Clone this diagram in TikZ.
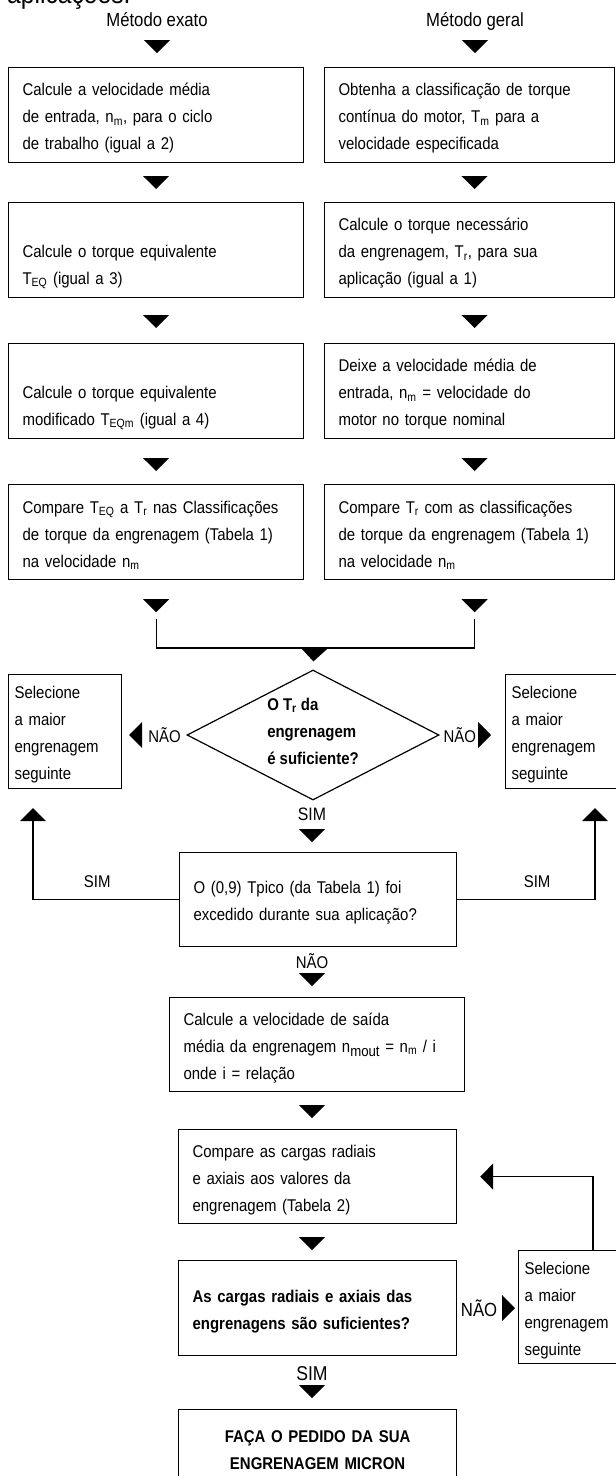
\documentclass[tikz,border=0pt]{standalone}
\usepackage{fontspec}
\setmainfont{Liberation Sans}[FakeStretch=0.88]
\usetikzlibrary{arrows.meta,shapes.geometric}
\newcommand\flowfont{\fontsize{17}{27}\selectfont}
\hyphenpenalty=10000
\exhyphenpenalty=10000

\begin{document}
\begin{tikzpicture}[x=1pt,y=-1pt,
        box/.style={draw, line width=1.2pt, anchor=north west, inner xsep=14pt, inner ysep=0pt,
          minimum height=95pt, text width=#1, align=left, font=\flowfont, execute at begin node=\strut},
        sel/.style={box=101pt, inner xsep=6pt, minimum height=114pt},
        query/.style={draw, diamond, line width=1.2pt, aspect=1.94, inner sep=0pt, minimum width=252pt,
          minimum height=130pt, align=left, font=\flowfont\bfseries, execute at end node=\strut},
        ttl/.style={inner sep=0pt, anchor=base, text depth=0pt, font=\fontsize{19}{19}\selectfont},
        lbl/.style={inner sep=0pt, font=\fontsize{#1}{#1}\selectfont}, lbl/.default=17,
        link/.style={line width=1.2pt},
        pointer/.style 2 args={line width=1.2pt, -{Triangle[length=13pt,width=26pt]}, shorten <=#1, shorten >=#2}]
        \path[use as bounding box, fill=white] (0,0) rectangle (616,1476);
        \node[anchor=base west, inner sep=0pt, font=\fontsize{28}{28}\selectfont] (cut) at (7,3) {aplicações.};
        %
        % column titles
        \node[ttl] (ttlL) at (157,26) {Método exato};
        \node[ttl] (ttlR) at (475,26) {Método geral};
        %
        % left column
        \node[box=267pt] (b1L) at (8,67) {Calcule a velocidade média\\de entrada, n\textsubscript{m}, para o ciclo\\de trabalho (igual a 2)};
        \node[box=267pt] (b2L) at (8,202) {\\Calcule o torque equivalente\\T\textsubscript{EQ} (igual a 3)};
        \node[box=267pt] (b3L) at (8,343) {\\Calcule o torque equivalente\\modificado T\textsubscript{EQm} (igual a 4)};
        \node[box=267pt] (b4L) at (8,484) {Compare T\textsubscript{EQ} a T\textsubscript{r} nas Classificações\\de torque da engrenagem (Tabela 1)\\na velocidade n\textsubscript{m}};
        %
        % right column
        \node[box=262pt] (b1R) at (324,67) {Obtenha a classificação de torque\\contínua do motor, T\textsubscript{m} para a\\velocidade especificada};
        \node[box=262pt] (b2R) at (324,202) {Calcule o torque necessário\\da engrenagem, T\textsubscript{r}, para sua\\aplicação (igual a 1)};
        \node[box=262pt] (b3R) at (324,343) {Deixe a velocidade média de\\entrada, n\textsubscript{m} = velocidade do\\motor no torque nominal};
        \node[box=262pt] (b4R) at (324,484) {Compare T\textsubscript{r} com as classificações\\de torque da engrenagem (Tabela 1)\\na velocidade n\textsubscript{m}};
        %
        % decision and side boxes
        \node[query] (dia) at (313,735) {O T\textsubscript{r} da\\engrenagem\\é suficiente?};
        \node[sel] (selL) at (8,674) {Selecione\\a maior\\engrenagem\\seguinte};
        \node[sel] (selR) at (505,674) {Selecione\\a maior\\engrenagem\\seguinte};
        %
        % lower chain
        \node[box=249pt, minimum height=94pt] (ask) at (179,852) {O (0,9) Tpico (da Tabela 1) foi\\excedido durante sua aplicação?};
        \node[box=267pt, minimum height=94pt] (calc) at (169,997) {Calcule a velocidade de saída\\média da engrenagem n\raisebox{-4pt}{\fontsize{15}{15}\selectfont mout} = n\textsubscript{m} / i\\onde i = relação};
        \node[box=250pt, minimum height=94pt] (cmp) at (178,1129) {Compare as cargas radiais\\e axiais aos valores da\\engrenagem (Tabela 2)};
        \node[box=250pt, font=\flowfont\bfseries] (load) at (178,1260) {As cargas radiais e axiais das\\engrenagens são suficientes?};
        \node[sel, minimum height=113pt] (selR2) at (518,1250) {Selecione\\a maior\\engrenagem\\seguinte};
        \node[box=250pt, align=center, minimum height=74pt, font=\flowfont\bfseries] (order) at (178,1409) {FAÇA O PEDIDO DA SUA\\ENGRENAGEM MICRON};
        %
        % titles to first row
        \draw[pointer={14pt}{14pt}] (ttlL.south) -- (ttlL.south |- b1L.north);
        \draw[pointer={14pt}{14pt}] (ttlR.south) -- (ttlR.south |- b1R.north);
        %
        % down the columns
        \draw[pointer={14pt}{13pt}] (b1L.south) -- (b2L.north);
        \draw[pointer={18pt}{15pt}] (b2L.south) -- (b3L.north);
        \draw[pointer={20pt}{13pt}] (b3L.south) -- (b4L.north);
        \draw[pointer={14pt}{13pt}] ([xshift=5pt]b1R.south) -- ([xshift=5pt]b2R.north);
        \draw[pointer={18pt}{15pt}] ([xshift=5pt]b2R.south) -- ([xshift=5pt]b3R.north);
        \draw[pointer={20pt}{13pt}] ([xshift=5pt]b3R.south) -- ([xshift=5pt]b4R.north);
        %
        % merge into the decision
        \coordinate (join) at (314,648);
        \coordinate (spine) at (312,0);
        \draw[pointer={19pt}{7pt}] (b4L.south) -- ([yshift=-39pt]b4L.south);
        \draw[pointer={19pt}{7pt}] ([xshift=5pt]b4R.south) -- ([xshift=5pt,yshift=-39pt]b4R.south);
        \draw[link] ([yshift=-39pt]b4L.south) |- (join) -| ([xshift=5pt,yshift=-39pt]b4R.south);
        \draw[pointer={1pt}{8pt}] (join) -- (dia.north);
        %
        \draw[pointer={46pt}{7pt}] (dia.west) -- (dia.west -| selL.east) node[lbl, pos=.34] {NÃO};
        \draw[pointer={39pt}{14pt}] (dia.east) -- (dia.east -| selR.west) node[lbl, pos=.31] {NÃO};
        \draw[pointer={29pt}{10pt}] (spine |- dia.south) -- (spine |- ask.north) node[lbl=18, pos=.26] {SIM};
        %
        % loops back up
        \draw[pointer={0pt}{19pt}] (ask.west) -| ([xshift=25pt]selL.south west) node[lbl, pos=.28, above=11pt] {SIM};
        \draw[pointer={0pt}{19pt}] (ask.east) -| ([xshift=90pt]selR.south west) node[lbl, pos=.29, above=11pt] {SIM};
        %
        \draw[pointer={27pt}{11pt}] (spine |- ask.south) -- (spine |- calc.north) node[lbl, pos=.27] {NÃO};
        \draw[pointer={14pt}{11pt}] (spine |- calc.south) -- (spine |- cmp.north);
        \draw[pointer={14pt}{10pt}] (spine |- cmp.south) -- (spine |- load.north);
        \draw[pointer={30pt}{11pt}] (spine |- load.south) -- (spine |- order.north) node[lbl=20, pos=.33] {SIM};
        \draw[pointer={46pt}{3pt}] (load.east) -- (load.east -| selR2.west) node[lbl=19, pos=.36] {NÃO};
        \draw[pointer={0pt}{23pt}] ([xshift=75pt]selR2.north west) |- (cmp.east);
        \end{tikzpicture}
\end{document}
